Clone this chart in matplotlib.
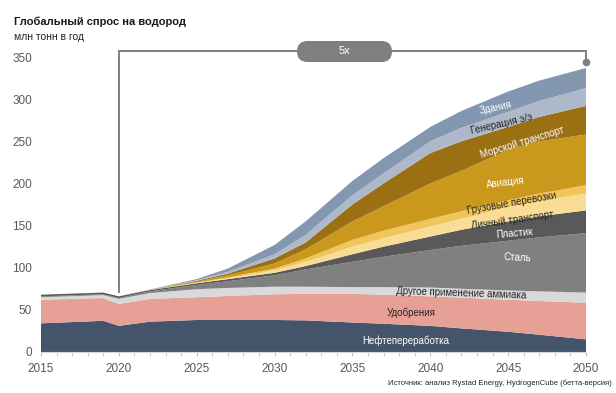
import matplotlib
matplotlib.use("Agg")
import matplotlib.pyplot as plt
from matplotlib.patches import FancyBboxPatch
from matplotlib.transforms import IdentityTransform

plt.rcParams['font.family'] = ['Liberation Sans', 'DejaVu Sans']

# Data (млн тонн в год)
years = [2015, 2019, 2020, 2022, 2025, 2027, 2030, 2032, 2035, 2037, 2040, 2042, 2045, 2047, 2050]

refining = [34, 37, 31, 36, 38, 38, 38, 37.5, 35, 33.5, 31, 28, 24, 20.5, 15]
fertilizer = [28, 27, 26, 27, 27, 28.5, 30.5, 31.5, 34, 34.5, 35, 36.5, 38, 40, 43.5]
ammonia_other = [3, 3.5, 6, 7, 9.5, 9.5, 9, 8.5, 8, 9, 10.5, 10.5, 11, 11.5, 12]
steel = [1, 1, 1, 2, 5, 8, 13.5, 20.5, 30, 36, 44.5, 51, 59, 64, 70.5]
plastic = [2, 2, 2, 1.5, 2, 2.5, 3, 4, 9, 12, 16, 19, 23, 25, 27]
personal = [0, 0, 0, 0.1, 0.5, 1, 3, 5, 9, 10, 12, 13, 17, 18, 20]
freight = [0, 0, 0, 0.1, 0.5, 1, 2, 4, 8, 9, 9, 9, 8, 9, 10]
aviation = [0, 0, 0, 0.1, 1, 2.5, 6, 11, 22, 29, 42, 48, 60, 62, 60]
shipping = [0, 0, 0, 0.1, 1, 2, 6, 8, 20, 27, 36, 35, 27, 29, 34]
power = [0, 0, 0, 0.1, 0.7, 2, 5, 9, 11, 12, 14, 16, 18, 19, 21]
buildings = [0, 0, 0, 0.2, 1.3, 4, 11, 16, 17, 18, 17, 20, 24, 24, 24]

series = [refining, fertilizer, ammonia_other, steel, plastic,
          personal, freight, aviation, shipping, power, buildings]
colors = ['#44546a', '#e6a096', '#d9d9d9', '#808080', '#595959',
          '#f9dc95', '#f2c55a', '#c9981c', '#9a7012', '#adb9ca', '#8497b0']

# label text, position (year, value), rotation, text colour
labels = [
    ("Нефтепереработка", 2038.4, 13, 0, 'white'),
    ("Удобрения", 2038.8, 47, 0, '#262626'),
    ("Другое применение аммиака", 2042.0, 70, -2, '#262626'),
    ("Сталь", 2045.6, 112, -3, 'white'),
    ("Пластик", 2045.4, 141, 5, 'white'),
    ("Личный транспорт", 2045.3, 156, 8, '#262626'),
    ("Грузовые перевозки", 2045.2, 176, 10, '#262626'),
    ("Авиация", 2044.8, 201, 7, 'white'),
    ("Морской транспорт", 2045.9, 249, 17, 'white'),
    ("Генерация э/э", 2044.6, 271, 13, '#262626'),
    ("Здания", 2044.2, 290, 12, 'white'),
]

fig = plt.figure(figsize=(6.16, 3.93), dpi=100)
ax = fig.add_axes([41 / 616, 1 - 352 / 393, 545 / 616, 295 / 393])

ax.stackplot(years, *series, colors=colors, linewidth=0)

for text, x, y, rot, c in labels:
    ax.text(x, y, text, fontsize=7, color=c, rotation=rot,
            ha='center', va='center', rotation_mode='anchor')

ax.set_xlim(2015, 2050)
ax.set_ylim(0, 350)
ax.set_xticks(range(2015, 2051, 5))
ax.set_xticks(range(2015, 2051), minor=True)
ax.set_yticks(range(0, 351, 50))
ax.tick_params(axis='x', which='both', length=3, color='#bfbfbf', labelsize=8.5,
               labelcolor='#595959', pad=5)
ax.tick_params(axis='y', length=0, labelsize=8.5, labelcolor='#595959', pad=6.5)
for s in ['top', 'right', 'left']:
    ax.spines[s].set_visible(False)
ax.spines['bottom'].set_color('#d9d9d9')

# "5x" bracket from 2020 to 2050
grey = '#7f7f7f'
ax.plot([2020, 2020, 2050, 2050], [71, 357, 357, 344], color=grey, lw=1.4,
        clip_on=False, solid_joinstyle='miter')
ax.plot([2050], [344], 'o', color=grey, ms=4.5, clip_on=False)

# pill drawn in pixel coordinates (figure is 616x393 px)
pill = FancyBboxPatch((297, 393 - 62), 95, 21,
                      boxstyle="round,pad=0,rounding_size=10.5",
                      transform=IdentityTransform(),
                      facecolor=grey, edgecolor='none', zorder=5)
fig.patches.append(pill)
fig.text(344.5 / 616, 1 - 51.5 / 393, "5x", color='white', fontsize=8,
         ha='center', va='center', zorder=6)

fig.text(14 / 616, 1 - 22 / 393, "Глобальный спрос на водород", fontsize=8,
         fontweight='bold', color='#1a1a1a', ha='left', va='center')
fig.text(14 / 616, 1 - 37 / 393, "млн тонн в год", fontsize=7.5,
         color='#262626', ha='left', va='center')
fig.text(612 / 616, 1 - 383 / 393,
         "Источник: анализ Rystad Energy, HydrogenCube (бетта-версия)",
         fontsize=5.5, color='#262626', ha='right', va='center')

fig.savefig("out.png", dpi=100)
